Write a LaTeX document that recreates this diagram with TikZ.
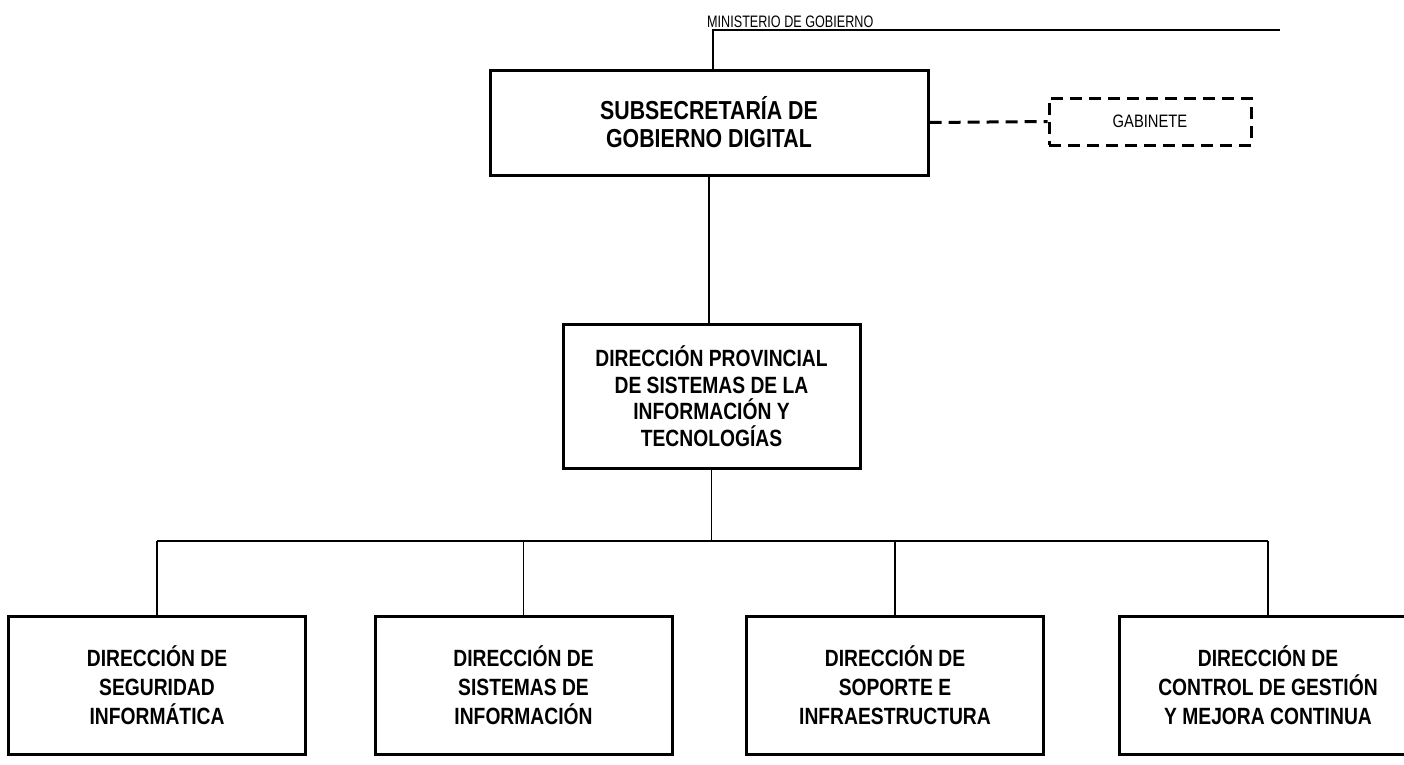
\documentclass[tikz,border=0pt]{standalone}
\usepackage{fontspec}
\setmainfont{Liberation Sans}[FakeStretch=0.82]
\newfontfamily\narrowfont{Liberation Sans}[FakeStretch=0.76]
\usepackage{tikz}
\usetikzlibrary{calc}
\tikzstyle{unitbox}=[draw, line width=3pt, align=center, inner sep=0pt, font=\fontsize{23.5}{29}\selectfont\bfseries]
\tikzstyle{topbox}=[unitbox, minimum width=438pt, minimum height=105pt, font=\fontsize{26}{28}\selectfont\bfseries]
\tikzstyle{midbox}=[unitbox, minimum width=297pt, minimum height=144pt, font=\fontsize{23.5}{26.5}\selectfont\bfseries]
\tikzstyle{lowbox}=[unitbox, minimum width=297pt, minimum height=138pt]
\tikzstyle{staffbox}=[draw, line width=3pt, dash pattern=on 12pt off 7pt, minimum width=202pt, minimum height=47pt, font=\fontsize{18}{20}\selectfont]
\tikzstyle{link}=[line width=1.4pt]
\newcommand{\unitdrop}[1]{
 \draw[link] (#1.north |- bus) -- (#1.north);
}

\begin{document}
\begin{tikzpicture}[x=1pt,y=-1pt]
 \useasboundingbox (0,0) rectangle (1404,764);
%
 \coordinate (mintop) at (713,30);
 \coordinate (minend) at (1280,30);
 \node[anchor=base west, inner sep=0pt, font=\fontsize{16.6}{18}\selectfont\narrowfont] (ministerio) at (707,27.5) {MINISTERIO DE GOBIERNO};
%
 \node[topbox] (subsec) at (709,122.5) {SUBSECRETARÍA DE\\GOBIERNO DIGITAL};
 \node[staffbox] (gabinete) at (1150,121.5) {GABINETE};
 \node[midbox] (dirprov) at (711.5,396) {DIRECCIÓN PROVINCIAL\\DE SISTEMAS DE LA\\INFORMACIÓN Y\\TECNOLOGÍAS};
%
 \node[lowbox] (seguridad) at (157,685) {DIRECCIÓN DE\\SEGURIDAD\\INFORMÁTICA};
 \node[lowbox] (sistemas) at (523.5,685) {DIRECCIÓN DE\\SISTEMAS DE\\INFORMACIÓN};
 \node[lowbox] (soporte) at (895,685) {DIRECCIÓN DE\\SOPORTE E\\INFRAESTRUCTURA};
 \node[lowbox] (control) at (1268,685) {DIRECCIÓN DE\\CONTROL DE GESTIÓN\\Y MEJORA CONTINUA};
%
 \draw[link] (minend) -- (mintop) -- (mintop |- subsec.north);
 \draw[line width=3pt, dash pattern=on 12pt off 7pt] (subsec.east) -- (gabinete.west);
 \draw[link] (subsec.south) -- (subsec.south |- dirprov.north);
%
 \coordinate (bus) at (711.5,541);
 \draw[link] (dirprov.south) -- (bus);
 \draw[link] (seguridad.north |- bus) -- (control.north |- bus);
 \unitdrop{seguridad}
 \unitdrop{sistemas}
 \unitdrop{soporte}
 \unitdrop{control}
\end{tikzpicture}
\end{document}
